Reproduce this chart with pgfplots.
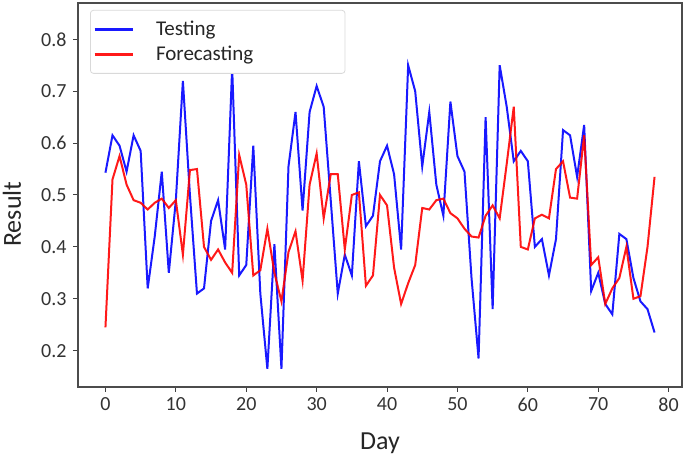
\documentclass[border=0pt]{standalone}
\usepackage{pgfplots}
\pgfplotsset{compat=1.18}
\usepackage{fontspec}
\setmainfont{Carlito}
\pgfplotstableread{
x test fore
0 0.543 0.245
1 0.615 0.530
2 0.595 0.575
3 0.545 0.520
4 0.615 0.490
5 0.585 0.485
6 0.320 0.472
7 0.420 0.485
8 0.545 0.493
9 0.350 0.475
10 0.490 0.490
11 0.720 0.385
12 0.500 0.548
13 0.310 0.550
14 0.320 0.400
15 0.450 0.375
16 0.490 0.395
17 0.395 0.370
18 0.745 0.350
19 0.345 0.577
20 0.365 0.520
21 0.595 0.345
22 0.310 0.355
23 0.165 0.435
24 0.405 0.350
25 0.165 0.295
26 0.555 0.390
27 0.660 0.430
28 0.470 0.335
29 0.660 0.520
30 0.710 0.580
31 0.670 0.455
32 0.490 0.540
33 0.310 0.540
34 0.385 0.395
35 0.345 0.500
36 0.565 0.505
37 0.440 0.325
38 0.460 0.345
39 0.565 0.500
40 0.595 0.480
41 0.540 0.360
42 0.395 0.290
43 0.750 0.330
44 0.700 0.365
45 0.555 0.475
46 0.660 0.472
47 0.520 0.490
48 0.460 0.493
49 0.680 0.465
50 0.575 0.455
51 0.545 0.435
52 0.340 0.420
53 0.185 0.418
54 0.650 0.460
55 0.280 0.480
56 0.750 0.455
57 0.670 0.560
58 0.565 0.670
59 0.585 0.400
60 0.565 0.395
61 0.400 0.455
62 0.415 0.462
63 0.345 0.455
64 0.415 0.550
65 0.625 0.565
66 0.615 0.495
67 0.535 0.493
68 0.635 0.615
69 0.315 0.365
70 0.350 0.380
71 0.290 0.290
72 0.270 0.320
73 0.425 0.340
74 0.415 0.400
75 0.340 0.300
76 0.295 0.305
77 0.280 0.400
78 0.235 0.535
}\data
\begin{document}
\begin{tikzpicture}
\begin{axis}[
  scale only axis,
  width=604pt, height=384pt,
  xmin=-3.9, xmax=81.9,
  ymin=0.13, ymax=0.87,
  xtick={0,10,...,80},
  ytick={0.2,0.3,0.4,0.5,0.6,0.7,0.8},
  yticklabel style={/pgf/number format/fixed,/pgf/number format/precision=1,/pgf/number format/fixed zerofill, xshift=-3pt},
  xticklabel style={yshift=-2pt},
  /pgf/number format/assume math mode=true,
  tick align=outside,
  tick pos=left,
  major tick length=5pt,
  axis line style={black!70, line width=1.3pt},
  every tick/.style={black!75, line width=1pt},
  font=\fontsize{20}{24}\selectfont,
  tick label style={black!80},
  xlabel={Day}, ylabel={Result},
  every axis x label/.style={at={(axis description cs:0.5,0)}, yshift=-56pt, anchor=center, font=\fontsize{26}{30}\selectfont, black!85},
  every axis y label/.style={at={(axis description cs:0,0.45)}, xshift=-66pt, rotate=90, anchor=center, font=\fontsize{26}{30}\selectfont, black!85},
  legend style={at={(0.0199,0.982)}, anchor=north west, draw=black!15, rounded corners=3pt, line width=0.8pt, inner xsep=3pt, inner ysep=9pt, row sep=5pt, font=\fontsize{21}{24}\selectfont, text=black!85},
  legend cell align=left,
  legend image code/.code={\draw[#1, line width=2.6pt] (0pt,0pt) -- (38pt,0pt);},
]
\addplot[blue, line width=2pt, opacity=0.9] table[x=x, y=test] {\data};
\addlegendentry{\hspace{20pt}\makebox[184pt][l]{Testing}}
\addplot[red, line width=2pt, opacity=0.9] table[x=x, y=fore] {\data};
\addlegendentry{\hspace{20pt}\makebox[184pt][l]{Forecasting}}
\end{axis}
\pgfresetboundingbox
\path ([xshift=-78pt,yshift=-71pt]current axis.south west) rectangle ([xshift=3pt,yshift=3pt]current axis.north east);
\end{tikzpicture}
\end{document}
